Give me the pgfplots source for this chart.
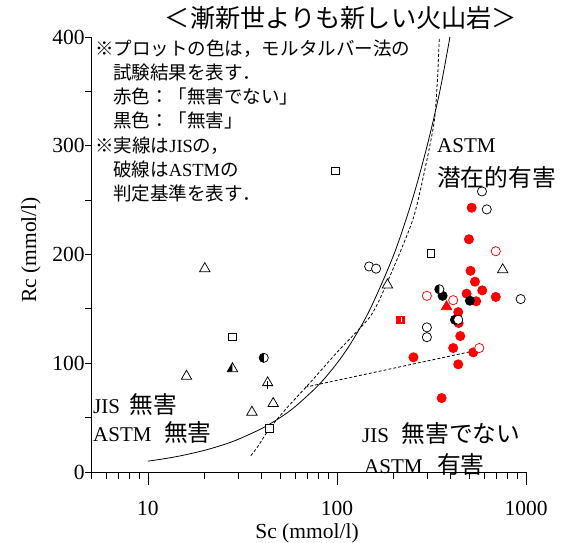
\documentclass[border=0pt]{standalone}
\usepackage{fontspec}
\setmainfont{Liberation Serif}
\newfontfamily\jp[Scale=1.13]{Noto Sans CJK JP}
\usepackage{pgfplots}
\pgfplotsset{compat=1.18}

\pgfdeclareplotmark{halftri}{%
  \pgfpathmoveto{\pgfqpoint{0pt}{\pgfplotmarksize}}%
  \pgfpathlineto{\pgfqpoint{-.866\pgfplotmarksize}{-.5\pgfplotmarksize}}%
  \pgfpathlineto{\pgfqpoint{0pt}{-.5\pgfplotmarksize}}%
  \pgfpathclose\pgfusepathqfill
  \pgfpathmoveto{\pgfqpoint{0pt}{\pgfplotmarksize}}%
  \pgfpathlineto{\pgfqpoint{-.866\pgfplotmarksize}{-.5\pgfplotmarksize}}%
  \pgfpathlineto{\pgfqpoint{.866\pgfplotmarksize}{-.5\pgfplotmarksize}}%
  \pgfpathclose\pgfusepathqstroke}
\pgfdeclareplotmark{halfcircL}{%
  \pgfpathcircle{\pgfpointorigin}{\pgfplotmarksize}%
  \pgfsetfillcolor{white}\pgfusepathqfill
  \pgfsetfillcolor{black}%
  \pgfpathmoveto{\pgfqpoint{0pt}{\pgfplotmarksize}}%
  \pgfpatharc{90}{270}{\pgfplotmarksize}%
  \pgfpathclose\pgfusepathqfill
  \pgfpathcircle{\pgfpointorigin}{\pgfplotmarksize}%
  \pgfusepathqstroke}
\pgfdeclareplotmark{redhalfsq}{%
  \pgfpathrectangle{\pgfqpoint{-\pgfplotmarksize}{-\pgfplotmarksize}}{\pgfqpoint{2\pgfplotmarksize}{2\pgfplotmarksize}}%
  \pgfusepathqfillstroke
  \pgfsetfillcolor{white}%
  \pgfpathrectangle{\pgfqpoint{.1\pgfplotmarksize}{-.65\pgfplotmarksize}}{\pgfqpoint{.4\pgfplotmarksize}{1.3\pgfplotmarksize}}%
  \pgfusepathqfill}

\begin{document}
\begin{tikzpicture}
\path[use as bounding box] (-91pt,-70pt) rectangle (474pt,472pt);
\begin{axis}[
  at={(0,0)}, anchor=south west,
  scale only axis, width=435pt, height=435pt,
  xmode=log, xmin=5, xmax=1000, ymin=0, ymax=400,
  axis x line*=bottom, axis y line*=left,
  axis line style={line width=0.8pt},
  xtick={10,100,1000}, xticklabels={10,100,1000},
  minor xtick={5,6,7,8,9,20,30,40,50,60,70,80,90,200,300,400,500,600,700,800,900},
  ytick=\empty,
  extra y ticks={0,50,100,150,200,250,300,350,400},
  extra y tick labels={0,,100,,200,,300,,400},
  extra y tick style={major tick length=6pt},
  tick align=outside,
  major tick length=13pt, minor tick length=7pt,
  every tick/.style={black, line width=0.8pt},
  tick label style={font=\fontsize{21.5}{24}\selectfont},
  xticklabel style={yshift=-13pt},
  yticklabel style={xshift=3pt},
  /pgf/number format/assume math mode=true,
  clip=false,
  mk/.style={only marks, line width=0.75pt},
]
% JIS criterion (solid)
\addplot[black, line width=0.8pt, smooth] coordinates {
 (10,10)(12,12)(15,15)(20,20)(25,25)(30,30)(40,40)(50,50)(60,60)(80,80)
 (100,100)(120,120)(150,150)(200,200)(250,250)(300,300)(350,350)(396,400)};
% ASTM criterion (dashed)
\addplot[black, line width=0.8pt, smooth, tension=0.4, dash pattern=on 3pt off 2pt] coordinates {
 (35,15)(38,23)(44,40)(55,60)(72,82)(100,110)(150,143)(183,173)
 (252,232)(300,288)(328,324)(340,360)(348,400)};
\addplot[black, line width=0.8pt, dash pattern=on 3pt off 2pt] coordinates {
 (68,78)(520,111)};

% red filled circles
\addplot[mk, mark=*, mark size=4.6pt, draw=red, fill=red] coordinates {
 (516,243)(499,214)(509,185)(537,175)(587,167)(485,164)(692,161)(545,157)
 (438,147)(440,137)(449,125)(412,114)(438,99)(358,68)(254,105.5)(526,110)};
% red filled triangle
\addplot[mk, mark=triangle*, mark size=6pt, draw=red, fill=red] coordinates {(380,152)};
% red half square
\addplot[mk, mark=redhalfsq, mark size=3.7pt, draw=red, fill=red] coordinates {(217,140)};
% black filled circles
\addplot[mk, mark=*, mark size=4.6pt, draw=black, fill=black] coordinates {
 (362,162)(421,140)(505,157.5)};
% black half circles
\addplot[mk, mark=halfcircL, mark size=4.6pt, draw=black, fill=black] coordinates {
 (41,105)(348,168)};
% black half triangle
\addplot[mk, mark=halftri, mark size=6pt, draw=black, fill=black] coordinates {(28,95)};
% red open circles
\addplot[mk, mark=*, mark size=4.6pt, draw=red, fill=white] coordinates {
 (299,162)(412,158)(566,114)(692,203)};
% black open circles
\addplot[mk, mark=*, mark size=4.6pt, draw=black, fill=white] coordinates {
 (148,189)(161,187)(299,133)(299,124)(585,258)(620,241.5)(937,159)(438,140)};
% black open triangles
\addplot[mk, mark=triangle*, mark size=6pt, draw=black, fill=white] coordinates {
 (20,187)(16,88)(46,63)(35.5,55)(185,172)(753,186)(43,82)};
\addplot[mk, mark=+, mark size=4pt, draw=black] coordinates {(43,80)};
% black open squares
\addplot[mk, mark=square*, mark size=3.7pt, draw=black, fill=white] coordinates {
 (28,124)(44,40)(98,277)(314,201)};
\end{axis}

% labels
\node[font=\fontsize{21.5}{24}\selectfont] at (216pt,-61pt) {Sc (mmol/l)};
\node[font=\fontsize{21.5}{24}\selectfont, rotate=90] at (-60pt,222pt) {Rc (mmol/l)};
% title
\node[font=\fontsize{22.3}{26}\selectfont] at (250pt,454pt) {\jp ＜漸新世よりも新しい火山岩＞};
% note block
\begin{scope}[every node/.style={anchor=base west, inner sep=0pt, font=\fontsize{16.4}{20}\selectfont}]
\node at (4pt,417pt) {\jp ※プロットの色は，モルタルバー法の};
\node at (22pt,393pt) {\jp 試験結果を表す．};
\node at (22pt,368.5pt) {\jp 赤色：「無害でない」};
\node at (22pt,344.5pt) {\jp 黒色：「無害」};
\node at (4pt,320pt) {{\jp ※実線は}{\fontsize{18.5}{20}\selectfont JIS}{\jp の，}};
\node at (22pt,296pt) {{\jp 破線は}{\fontsize{18.5}{20}\selectfont ASTM}{\jp の}};
\node at (22pt,272pt) {\jp 判定基準を表す．};
\end{scope}
% region annotations
\begin{scope}[every node/.style={anchor=base west, inner sep=0pt, font=\fontsize{21}{24}\selectfont}]
\node at (346pt,319.5pt) {ASTM};
\node at (346pt,286pt) {\jp 潜在的有害};
\node at (2pt,59pt) {JIS\hspace{0.45em}{\jp 無害}};
\node at (2pt,31pt) {ASTM\hspace{0.6em}{\jp 無害}};
\node at (271pt,30pt) {JIS\hspace{0.6em}{\jp 無害でない}};
\node at (273pt,-1pt) {ASTM\hspace{0.7em}{\jp 有害}};
\end{scope}
\end{tikzpicture}
\end{document}
